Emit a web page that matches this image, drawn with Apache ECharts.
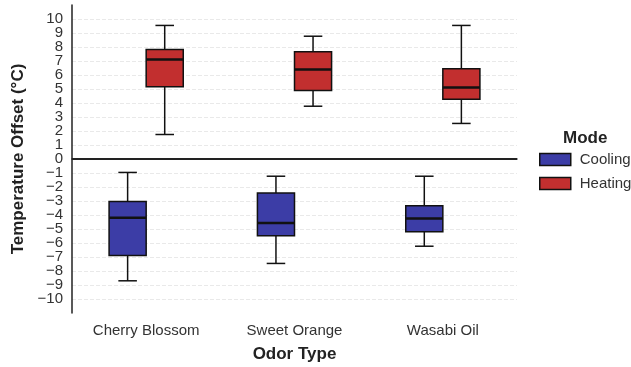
<!DOCTYPE html>
<html>
<head>
<meta charset="utf-8">
<script src="https://cdn.jsdelivr.net/npm/echarts@6/dist/echarts.min.js"></script>
<style>
  html, body { margin: 0; padding: 0; background: #fff; }
  #chart { width: 631px; height: 367px; }
</style>
</head>
<body>
<div id="chart"></div>
<script>
// odor categories along x
var categories = ['Cherry Blossom', 'Sweet Orange', 'Wasabi Oil'];

// box stats per category: [low, q1, median, q3, high]
var coolingBoxes = [
  [-8.7, -6.89, -4.2, -3.04, -0.96],
  [-7.46, -5.49, -4.58, -2.42, -1.23],
  [-6.23, -5.2, -4.25, -3.34, -1.23]
];
var heatingBoxes = [
  [1.75, 5.16, 7.1, 7.82, 9.54],
  [3.77, 4.89, 6.39, 7.66, 8.77],
  [2.54, 4.27, 5.11, 6.44, 9.54]
];

var coolColor = '#3C3DA6';
var heatColor = '#C22F2F';
var font = "'Liberation Sans', Arial, sans-serif";

function toRows(boxes) {
  var rows = [];
  for (var i = 0; i < boxes.length; i++) {
    rows.push([i].concat(boxes[i]));
  }
  return rows;
}

// side: -1 left of category centre, +1 right
function boxRenderer(side, fill) {
  return function (params, api) {
    var ci = api.value(0);
    var band = api.size([1, 0])[0];
    var w = band * 0.25;
    var cx = api.coord([ci, 0])[0] + side * w / 2;
    var yLow = api.coord([ci, api.value(1)])[1];
    var yQ1 = api.coord([ci, api.value(2)])[1];
    var yMed = api.coord([ci, api.value(3)])[1];
    var yQ3 = api.coord([ci, api.value(4)])[1];
    var yHigh = api.coord([ci, api.value(5)])[1];
    var lineStyle = { stroke: '#111', lineWidth: 1.5 };
    return {
      type: 'group',
      children: [
        { type: 'line', shape: { x1: cx, y1: yHigh, x2: cx, y2: yQ3 }, style: lineStyle },
        { type: 'line', shape: { x1: cx, y1: yQ1, x2: cx, y2: yLow }, style: lineStyle },
        { type: 'line', shape: { x1: cx - w / 4, y1: yHigh, x2: cx + w / 4, y2: yHigh }, style: lineStyle },
        { type: 'line', shape: { x1: cx - w / 4, y1: yLow, x2: cx + w / 4, y2: yLow }, style: lineStyle },
        { type: 'rect', shape: { x: cx - w / 2, y: yQ3, width: w, height: yQ1 - yQ3 },
          style: { fill: fill, stroke: '#111', lineWidth: 1.5 } },
        { type: 'line', shape: { x1: cx - w / 2, y1: yMed, x2: cx + w / 2, y2: yMed },
          style: { stroke: '#111', lineWidth: 2.5 } }
      ]
    };
  };
}

var gridColors = ['transparent'];
for (var k = 0; k < 21; k++) gridColors.push('#e9e9e9');

var chart = echarts.init(document.getElementById('chart'));

var option = {
  animation: false,
  textStyle: { fontFamily: font },
  title: {
    text: 'Mode',
    left: 558,
    top: 125,
    textStyle: { fontSize: 17, fontWeight: 'bold', color: '#222', fontFamily: font }
  },
  legend: {
    orient: 'vertical',
    left: 534,
    top: 147,
    itemWidth: 31,
    itemHeight: 12,
    itemGap: 9,
    data: [
      { name: 'Cooling', icon: 'rect', itemStyle: { color: coolColor, borderColor: '#111', borderWidth: 1.5 } },
      { name: 'Heating', icon: 'rect', itemStyle: { color: heatColor, borderColor: '#111', borderWidth: 1.5 } }
    ],
    textStyle: { fontSize: 15, color: '#333', fontFamily: font, padding: [0, 0, 0, 4] }
  },
  grid: { left: 72, right: 114, top: 5, bottom: 54, outerBoundsMode: 'none', containLabel: false },
  xAxis: {
    type: 'category',
    data: categories,
    name: 'Odor Type',
    nameLocation: 'middle',
    nameGap: 33,
    nameTextStyle: { fontSize: 17, fontWeight: 'bold', color: '#222' },
    axisLine: { lineStyle: { color: '#222', width: 1.5 } },
    axisTick: { show: false },
    axisLabel: { fontSize: 15, color: '#333', margin: 10 },
    splitLine: { show: false }
  },
  yAxis: {
    type: 'value',
    min: -11,
    max: 11,
    interval: 1,
    name: 'Temperature Offset (°C)',
    nameLocation: 'middle',
    nameGap: 40,
    nameTextStyle: { fontSize: 17, fontWeight: 'bold', color: '#222' },
    axisLine: { show: true, lineStyle: { color: '#222', width: 1.5 } },
    axisTick: { show: false },
    axisLabel: {
      fontSize: 15,
      color: '#333',
      margin: 9,
      formatter: function (v) {
        if (Math.abs(v) > 10) return '';
        return String(v).replace('-', '\u2212');
      }
    },
    splitLine: { show: true, lineStyle: { type: 'dashed', color: gridColors, width: 1 } }
  },
  series: [
    {
      name: 'Cooling',
      type: 'custom',
      renderItem: boxRenderer(-1, coolColor),
      itemStyle: { color: coolColor },
      encode: { x: 0, y: [1, 2, 3, 4, 5] },
      data: toRows(coolingBoxes),
      markLine: {
        silent: true,
        symbol: 'none',
        label: { show: false },
        lineStyle: { color: '#222', width: 2, type: 'solid' },
        data: [{ yAxis: 0 }]
      }
    },
    {
      name: 'Heating',
      type: 'custom',
      renderItem: boxRenderer(1, heatColor),
      itemStyle: { color: heatColor },
      encode: { x: 0, y: [1, 2, 3, 4, 5] },
      data: toRows(heatingBoxes)
    }
  ]
};

chart.setOption(option);
</script>
</body>
</html>
